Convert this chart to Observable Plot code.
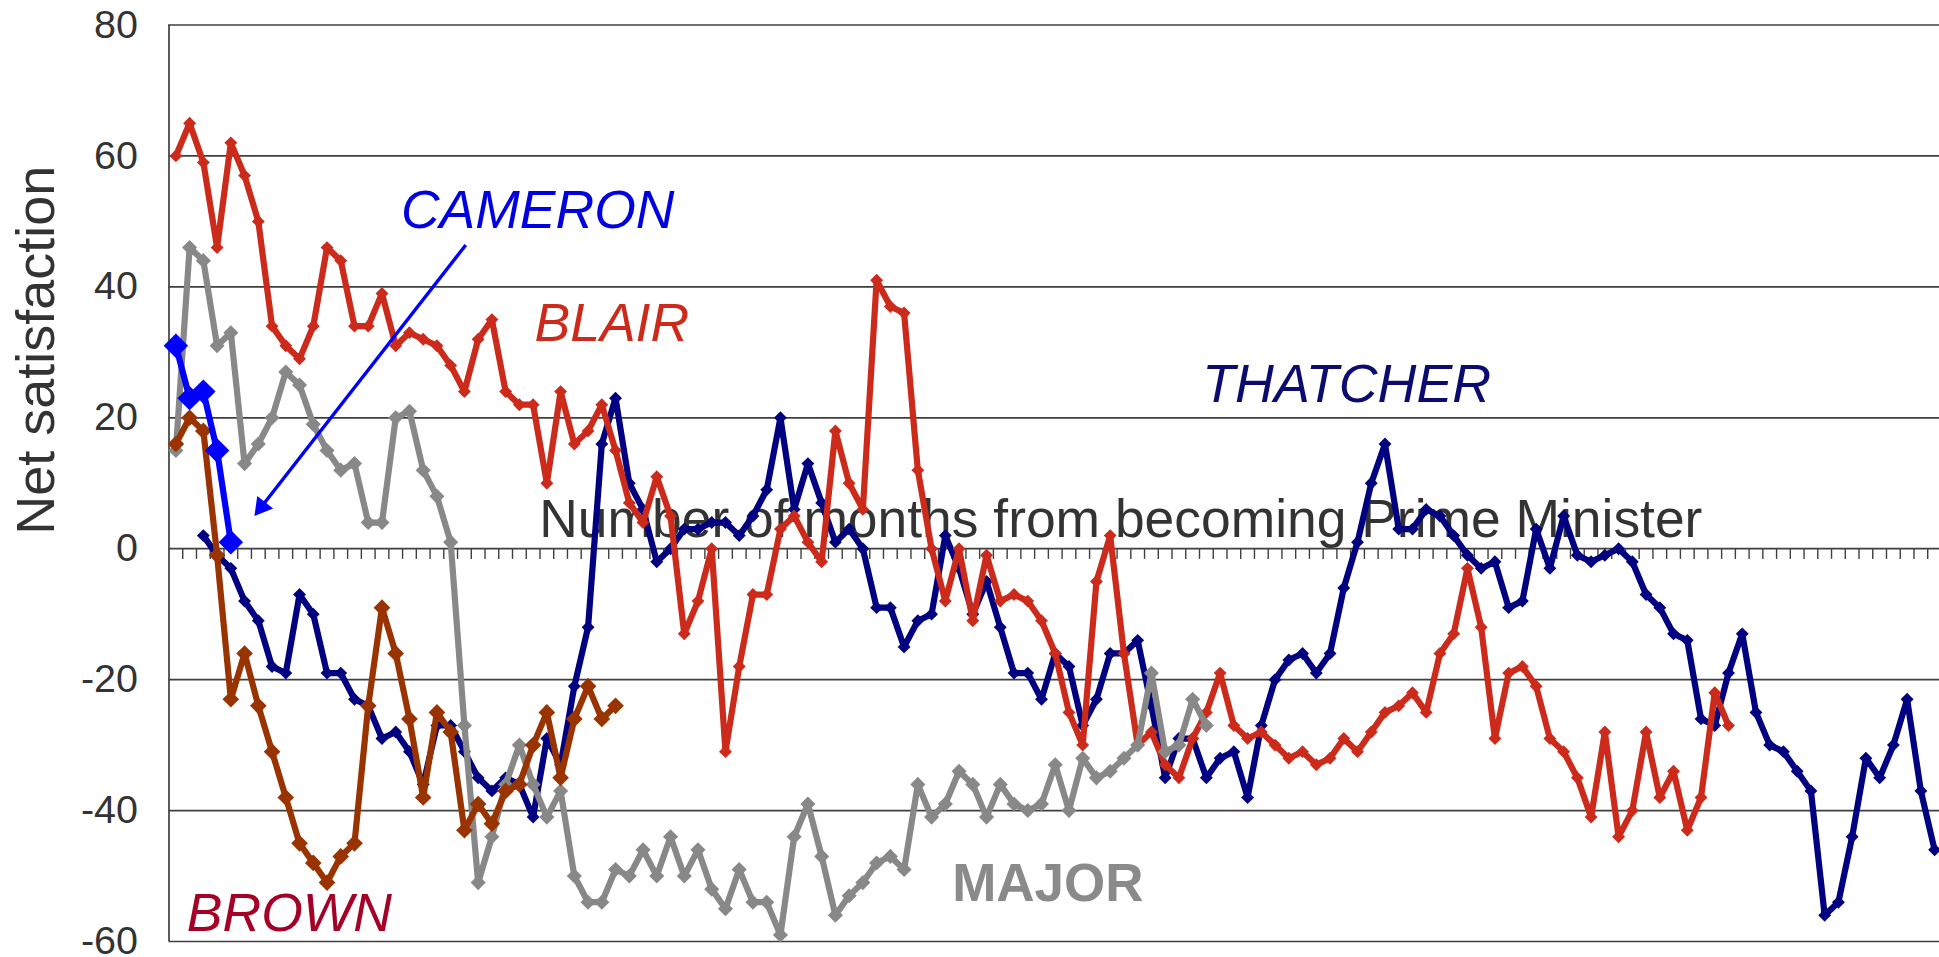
<!DOCTYPE html>
<html>
<head>
<meta charset="utf-8">
<script src="https://cdn.jsdelivr.net/npm/d3@7"></script>
<script src="https://cdn.jsdelivr.net/npm/@observablehq/plot@0.6"></script>
<style>
  html, body { margin: 0; padding: 0; background: #ffffff; }
  svg { display: block; }
</style>
</head>
<body>
<script>
// ---- Data: net satisfaction by month index from becoming Prime Minister ----
const yTicks = [-60, -40, -20, 0, 20, 40, 60, 80];

const thatcher = [null, null, 2, -1, -3, -8, -11, -18, -19, -7, -10, -19, -19, -23, -24, -29, -28, -31, -36, -27,
  -27, -31, -35, -37, -35, -36, -41, -29, -33, -21, -12, 16, 23, 10, 6, -2, 0, 3, 3, 4,
  4, 2, 5, 9, 20, 6, 13, 7, 1, 3, 0, -9, -9, -15, -11, -10, 2, -3, -10, -5,
  -12, -19, -19, -23, -16, -18, -27, -23, -16, -16, -14, -24, -35, -29, -29, -35, -32, -31, -38, -27,
  -20, -17, -16, -19, -16, -6, 1, 10, 16, 3, 3, 6, 5, 2, -1, -3, -2, -9, -8, 3,
  -3, 5, -1, -2, -1, 0, -2, -7, -9, -13, -14, -26, -27, -19, -13, -25, -30, -31, -34, -37,
  -56, -54, -44, -32, -35, -30, -23, -37, -46];

const blair = [60, 65, 59, 46, 62, 57, 50, 34, 31, 29, 34, 46, 44, 34, 34, 39, 31, 33, 32, 31,
  28, 24, 32, 35, 24, 22, 22, 10, 24, 16, 18, 22, 15, 7, 4, 11, 5, -13, -8, 0,
  -31, -18, -7, -7, 3, 5, 1, -2, 18, 10, 6, 41, 37, 36, 12, 0, -8, 0, -11, -1,
  -8, -7, -8, -11, -16, -25, -30, -5, 2, -16, -30, -28, -33, -35, -29, -25, -19, -27, -29, -28,
  -30, -32, -31, -33, -32, -29, -31, -28, -25, -24, -22, -25, -16, -13, -3, -12, -29, -19, -18, -21,
  -29, -31, -35, -41, -28, -44, -40, -28, -38, -34, -43, -38, -22, -27];

const major = [15, 46, 44, 31, 33, 13, 16, 20, 27, 25, 19, 15, 12, 13, 4, 4, 20, 21, 12, 8,
  1, -27, -51, -44, -36, -30, -36, -41, -37, -50, -54, -54, -49, -50, -46, -50, -44, -50, -46, -52,
  -55, -49, -54, -54, -59, -44, -39, -47, -56, -53, -51, -48, -47, -49, -36, -41, -39, -34, -36, -41,
  -36, -39, -40, -39, -33, -40, -32, -35, -34, -32, -30, -19, -31, -30, -23, -27];

const brown = [16, 20, 18, -1, -23, -16, -24, -31, -38, -45, -48, -51, -47, -45, -24, -9, -16, -26, -38, -25,
  -28, -43, -39, -42, -37, -36, -30, -25, -35, -26, -21, -26, -24];

const cameron = [31, 23, 24, 15, 1];

const seriesNames = ["THATCHER", "BLAIR", "MAJOR", "BROWN", "CAMERON"];
const axisTitleX = "Number of months from becoming Prime Minister";
const axisTitleY = "Net satisfaction";

// ---- Build tables ----
const toRows = (values) => values
  .map((v, i) => ({ month: i, value: v }))
  .filter(d => d.value !== null);

const rowsThatcher = toRows(thatcher);
const rowsBlair = toRows(blair);
const rowsMajor = toRows(major);
const rowsBrown = toRows(brown);
const rowsCameron = toRows(cameron);

const catBoundaries = d3.range(0.5, 129, 1);
const FONT = "Liberation Sans, Arial, Helvetica, sans-serif";
const gridColor = "#3f3f3f";

function lineMarks(rows, color, r, sw) {
  return [
    Plot.line(rows, { x: "month", y: "value", stroke: color, strokeWidth: sw, strokeLinejoin: "round", strokeLinecap: "round" }),
    Plot.dot(rows, { x: "month", y: "value", symbol: "diamond2", r: r, fill: color, stroke: "none" })
  ];
}

const labels = [
  { x: 16.38, y: 51.6, text: seriesNames[4], color: "#0000e0", italic: true, bold: false, size: 53.5 },
  { x: 26.1, y: 34.4, text: seriesNames[1], color: "#cc2a1a", italic: true, bold: false, size: 53.5 },
  { x: 74.7, y: 25.1, text: seriesNames[0], color: "#0c0c70", italic: true, bold: false, size: 53.8 },
  { x: 56.5, y: -51.2, text: seriesNames[2], color: "#8a8a8a", italic: false, bold: true, size: 53 },
  { x: 0.8, y: -55.8, text: seriesNames[3], color: "#a50026", italic: true, bold: false, size: 53.5 }
];

// Cameron annotation arrow (data units), with a filled head
const arrowLine = [{ x1: 21.1, y1: 46.4, x2: 6.3, y2: 6.6 }];
const arrowHead = [{ x: 6.24, y: 6.4 }];

const chart = Plot.plot({
  width: 1939,
  height: 957,
  marginLeft: 168.5,
  marginRight: 0,
  marginTop: 24.5,
  marginBottom: 16,
  style: { fontFamily: FONT, background: "#ffffff", color: "#333333", overflow: "hidden" },
  x: { domain: [-0.5, 128.5], range: [168.5, 168.5 + 129 * 13.74], axis: null },
  y: { domain: [-60, 80], range: [941, 24.5], axis: null },
  marks: [
    Plot.ruleY(yTicks, { stroke: gridColor, strokeWidth: 1.7 }),
    Plot.ruleX([-0.5], { stroke: gridColor, strokeWidth: 1.7 }),
    Plot.ruleX(catBoundaries, { y1: 0, y2: -1.63, stroke: gridColor, strokeWidth: 1.4 }),
    Plot.axisY(yTicks, { tickSize: 0, tickPadding: 31, tickFormat: d => String(d), fontSize: 39.5, fill: "#333333", label: null }),
    Plot.text([axisTitleY], { frameAnchor: "left", dx: -132.5, dy: -133, rotate: -90, fontSize: 54, fill: "#333333", lineAnchor: "middle", textAnchor: "middle" }),
    Plot.text([{ x: 26.45, y: 4.35, t: axisTitleX }], { x: "x", y: "y", text: "t", textAnchor: "start", lineAnchor: "middle", fontSize: 53.4, fill: "#333333" }),
    ...lineMarks(rowsThatcher, "#000080", 5.8, 6.2),
    ...lineMarks(rowsBlair, "#cc2a1a", 5.8, 6.2),
    ...lineMarks(rowsMajor, "#888888", 6.8, 6.2),
    ...lineMarks(rowsBrown, "#993300", 7.5, 6.2),
    ...lineMarks(rowsCameron, "#0000ff", 11, 6.2),
    ...labels.map(l => Plot.text([l], {
      x: "x", y: "y", text: "text", fill: l.color, fontSize: l.size,
      fontStyle: l.italic ? "italic" : "normal", fontWeight: l.bold ? "bold" : "normal",
      textAnchor: "start", lineAnchor: "middle"
    })),
    Plot.link(arrowLine, { x1: "x1", y1: "y1", x2: "x2", y2: "y2", stroke: "#0000ff", strokeWidth: 3.4 }),
    Plot.dot(arrowHead, { x: "x", y: "y", symbol: "triangle", r: 7.5, rotate: 218, fill: "#0000ff", stroke: "none" })
  ]
});

document.body.appendChild(chart);
</script>
</body>
</html>
